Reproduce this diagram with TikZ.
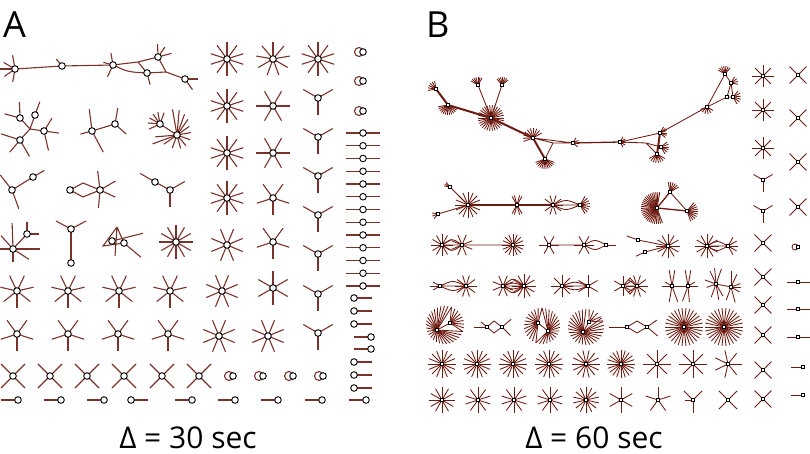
\documentclass[tikz,border=0pt]{standalone}
\usepackage{fontspec}
\setmainfont{Open Sans}
\definecolor{edgeA}{RGB}{122,50,42}
\definecolor{edgeB}{RGB}{110,26,16}
\tikzset{
 ea/.style={draw=edgeA, line width=1.1pt},
 eb/.style={draw=edgeB, line width=0.85pt},
 ebt/.style={draw=edgeB, line width=2pt},
 na/.style={circle, draw=black, fill=white, line width=0.9pt, inner sep=0pt, minimum size=6.6pt},
 nb/.style={rectangle, draw=black, fill=white, line width=0.6pt, inner sep=0pt, minimum size=3.4pt},
 panellab/.style={font=\fontsize{36}{40}\selectfont, inner sep=0pt},
 captxt/.style={font=\fontsize{30}{32}\selectfont, inner sep=0pt}
}
% panel A helpers
\newcommand\stA[4]{\foreach \k in {1,...,#2}{\draw[ea] #1 -- ++({-(#4+360*\k/#2)}:#3);}\node[na] at #1 {};}
\newcommand\spA[2]{\foreach \a/\l in {#2}{\draw[ea] #1 -- ++({-(\a)}:\l);}}
\newcommand\ndA[1]{\node[na] at #1 {};}
\newcommand\lpA[1]{\draw[ea] #1 ++(-4,0) circle[radius=4.5];\node[na] at #1 {};}
% panel B helpers
\newcommand\stB[4]{\foreach \k in {1,...,#2}{\draw[eb] #1 -- ++({-(#4+360*\k/#2)}:#3);}\node[nb] at #1 {};}
\newcommand\spB[2]{\foreach \a/\l in {#2}{\draw[eb] #1 -- ++({-(\a)}:\l);}}
\newcommand\fanB[5]{\foreach \k in {1,...,#2}{\draw[eb] #1 -- ++({-(#4+(#5-(#4))*(\k-1)/(#2-1))}:#3);}}
\newcommand\whB[7]{\foreach \k in {1,...,#7}{\pgfmathsetmacro\wang{#5+(#6-(#5))*(\k-1)/(#7-1)}\draw[eb] #1 -- ({#2+#4*cos(\wang)},{#3-#4*sin(\wang)});}}
\newcommand\ndB[1]{\node[nb] at #1 {};}
\begin{document}
\begin{tikzpicture}[x=1pt,y=-1pt]
\useasboundingbox (0,0) rectangle (810,454);
\node[panellab, anchor=base west] (labA) at (3,38) {A};
\node[panellab, anchor=base west] (labB) at (426,38) {B};
\node[captxt, anchor=base] (capA) at (188,448) {Δ = 30 sec};
\node[captxt, anchor=base] (capB) at (594,448) {Δ = 60 sec};

%================ PANEL A ================
% chain
\coordinate (a1) at (15,69); \coordinate (a2) at (62,66); \coordinate (a3) at (113,65);
\coordinate (j1) at (138,62); \coordinate (a4) at (158,57); \coordinate (a5) at (147,73);
\coordinate (j2) at (166,72); \coordinate (a6) at (185,79);
\draw[ea] (a1)--(a2)--(a3)--(j1)--(a4);
\draw[ea] (a3) .. controls (128,72) .. (a5);
\draw[ea] (j1)--(a5) (a4)--(j2)--(a6) (j2)--(a5);
\spA{(a1)}{180/15,150/13,100/14,215/13,260/13}
\spA{(a2)}{130/9}
\spA{(a3)}{100/12,165/10,245/13}
\spA{(a4)}{92/13,55/12,15/14}
\spA{(a5)}{285/12}
\spA{(a6)}{0/13,-55/13}
\foreach \n in {a1,a2,a3,a4,a5,a6} \ndA{(\n)}
% row 2a
\coordinate (b1) at (20,118); \coordinate (b2) at (35,115); \coordinate (b3) at (44,131);
\coordinate (b4) at (20,140); \coordinate (jb) at (30,129);
\draw[ea] (b1)--(jb) (b2)--(jb) (b3)--(jb) (b4)--(jb);
\spA{(b1)}{92/16,165/16}
\spA{(b2)}{70/14}
\spA{(b3)}{58/15,-8/15,283/20}
\spA{(b4)}{162/20,230/16,300/19}
\foreach \n in {b1,b2,b3,b4} \ndA{(\n)}
% row 2b
\coordinate (c1) at (92,131); \coordinate (c2) at (115,124);
\draw[ea] (c1)--(c2);
\spA{(c1)}{97/22,195/12,298/24}
\spA{(c2)}{80/16,318/15}
\ndA{(c1)} \ndA{(c2)}
% row 2c
\coordinate (d1) at (160,124); \coordinate (d2) at (177,135);
\draw[ea] (d1)--(d2);
\spA{(d1)}{70/12,100/12,125/12,150/12,175/12,205/12}
\spA{(d2)}{100/26,85/25,70/22,55/19,35/15,10/14,-20/14,-50/14,-75/14,-110/14,-145/16,200/26,185/22}
\ndA{(d1)} \ndA{(d2)}
% row 3
\coordinate (e1) at (12,190); \coordinate (e2) at (33,177);
\draw[ea] (e1)--(e2);
\spA{(e1)}{128/19,290/20}
\spA{(e2)}{30/13}
\ndA{(e1)} \ndA{(e2)}
\coordinate (f1) at (70,190); \coordinate (f2) at (100,190);
\coordinate (fu) at (83,183); \coordinate (fd) at (83,197);
\draw[ea] (f1)--(fu)--(f2) (f1)--(fd)--(f2);
\spA{(f2)}{97/19,30/18,-25/17,265/18}
\ndA{(f1)} \ndA{(f2)}
\coordinate (g1) at (155,182); \coordinate (g2) at (170,190);
\draw[ea] (g1)--(g2);
\spA{(g1)}{150/17}
\spA{(g2)}{30/17,270/17}
\ndA{(g1)} \ndA{(g2)}
% row 4
\coordinate (h1) at (13,249); \coordinate (h2) at (27,234);
\draw[ea] (h1)--(h2);
\spA{(h1)}{92/26,180/13,0/27,132/18,270/13,-33/19}
\spA{(h2)}{90/12,0/12}
\ndA{(h1)} \ndA{(h2)}
\coordinate (i1) at (71,229); \coordinate (i2) at (71,263);
\draw[ea] (i1)--(i2);
\spA{(i1)}{152/17,28/17}
\ndA{(i1)} \ndA{(i2)}
\coordinate (k1) at (112,241); \coordinate (k2) at (124,243);
\coordinate (kt) at (117,227); \coordinate (kl) at (103,246); \coordinate (kb) at (115,256);
\draw[ea] (kt)--(kl)--(k2) (kt)--(kb) (kt)--(k2);
\spA{(k1)}{14/32}
\spA{(k2)}{-40/22}
\ndA{(k1)} \ndA{(k2)}
\stA{(176,242)}{12}{17}{0}
% rows 5-7 left
\foreach \x in {17,68,119,170} {\stA{(\x,291)}{7}{17}{270}}
\foreach \x in {17,68,118,168} {\stA{(\x,334)}{5}{17}{270}}
\foreach \x in {13,50,87,124,162,199} {\stA{(\x,376)}{4}{17}{45}}
\foreach \x/\d in {18/-1,61/-1,104/-1,131/1,192/-1,235/-1,278/-1,322/-1,366/-1}
  {\draw[ea] (\x,400) -- ++(\d*17,0); \ndA{(\x,400)}}
% star columns
\foreach \y in {59,106,153,198} {\stA{(227,\y)}{10}{17}{18}}
\stA{(227,245)}{8}{17}{22.5}
\stA{(222,291)}{8}{17}{22.5}
\stA{(219,336)}{8}{17}{22.5}
\stA{(273,59)}{9}{17}{10}
\stA{(273,106)}{6}{17}{0}
\stA{(273,153)}{6}{17}{0}
\stA{(273,198)}{5}{17}{270}
\stA{(273,242)}{5}{17}{270}
\stA{(273,288)}{6}{17}{270}
\stA{(268,336)}{8}{17}{22.5}
\stA{(318,59)}{10}{17}{18}
\foreach \y in {98,137,176,215,254,294,333} {\spA{(318,\y)}{150/17,30/17,270/17}\ndA{(318,\y)}}
% loops
\foreach \y in {52,81,111} {\lpA{(363,\y)}}
\foreach \x in {233,263,293,323} {\lpA{(\x,376)}}
% dimers
\foreach \k in {0,...,12} {\draw[ea] (346,133+12.75*\k) -- (380,133+12.75*\k); \ndA{(363,133+12.75*\k)}}
\foreach \y in {298,311,324,362,375,388} {\draw[ea] (354,\y) -- (372,\y); \ndA{(354,\y)}}
\foreach \y in {337,349} {\draw[ea] (354,\y) -- (371,\y); \ndA{(371,\y)}}

%================ PANEL B ================
\coordinate (n1) at (436,89); \coordinate (n2) at (448,105); \coordinate (n3) at (478,85);
\coordinate (n4) at (502,85); \coordinate (n5) at (491,118); \coordinate (n6) at (533,138);
\coordinate (n7) at (545,159); \coordinate (jB1) at (553,143); \coordinate (n8) at (573,143);
\coordinate (n9) at (620,142); \coordinate (n10) at (660,133); \coordinate (jB2) at (646,143);
\coordinate (n11) at (661,147); \coordinate (n12) at (657,154); \coordinate (n13) at (707,107);
\coordinate (n14) at (725,74); \coordinate (n15) at (731,83); \coordinate (n16) at (727,97);
\coordinate (n17) at (733,97);
\fanB{(n1)}{6}{8}{100}{190}
\fanB{(n2)}{12}{10}{190}{330}
\fanB{(n3)}{7}{8}{60}{150}
\fanB{(n4)}{7}{8}{40}{130}
\fanB{(n5)}{30}{13}{0}{348}
\fanB{(n6)}{10}{10}{30}{200}
\fanB{(n7)}{12}{10}{200}{340}
\fanB{(n8)}{4}{6}{-40}{60}
\fanB{(n9)}{5}{6}{-60}{60}
\fanB{(n10)}{6}{7}{-40}{60}
\fanB{(n11)}{6}{8}{-60}{40}
\fanB{(n12)}{8}{9}{210}{330}
\fanB{(n13)}{6}{7}{200}{330}
\fanB{(n14)}{7}{8}{50}{150}
\fanB{(n15)}{4}{7}{-10}{60}
\fanB{(n17)}{6}{8}{-60}{50}
\draw[ebt] (n1)--(n2) (n2)--(n5) (n5)--(n6) (n6)--(n7) (n10)--(n12);
\draw[eb] (n3)--(n5) (n4)--(n5) (n6)--(n8) (n6)--(jB1) (n7)--(jB1) (jB1)--(n8);
\draw[eb, line width=1.3pt] (n8)--(n9);
\draw[eb] (n9)--(n10) (n9)--(jB2) (jB2)--(n11) (jB2)--(n12);
\draw[eb] (n10)--(n13) (n13)--(n14) (n13)--(n16) (n14)--(n15) (n15)--(n16) (n15)--(n17) (n16)--(n17);
\foreach \i in {1,...,17} \ndB{(n\i)}
% row 2
\coordinate (p1) at (450,187); \coordinate (p2) at (438,214); \coordinate (p3) at (468,205);
\coordinate (p4) at (517,205); \coordinate (p5) at (553,205); \coordinate (p6) at (580,205);
\draw[eb] (p1)--(p3) (p2)--(p3);
\draw[eb, line width=1.2pt] (p3)--(p4) (p4)--(p5);
\draw[eb] (p5)--(p6) (p5) .. controls (566,199) .. (p6) (p5) .. controls (566,211) .. (p6);
\fanB{(p1)}{3}{6}{130}{170}
\fanB{(p2)}{3}{6}{170}{230}
\fanB{(p3)}{16}{13}{0}{337.5}
\spB{(p4)}{60/10,75/10,105/10,120/10,240/10,255/10,285/10,300/10}
\fanB{(p5)}{10}{10}{0}{324}
\fanB{(p6)}{8}{10}{-60}{60}
\foreach \n in {p1,p2,p3,p4,p5,p6} \ndB{(\n)}
\coordinate (q1) at (657,208); \coordinate (q2) at (670,192); \coordinate (q3) at (687,211);
\draw[eb, line width=1.3pt] (q1)--(q2) (q1)--(q3);
\draw[eb] (q2)--(q3);
\fanB{(q1)}{30}{16}{80}{290}
\fanB{(q2)}{6}{10}{30}{100}
\fanB{(q3)}{10}{11}{-70}{50}
\foreach \n in {q1,q2,q3} \ndB{(\n)}
% row 3
\coordinate (r1) at (442,245); \coordinate (r2) at (462,245); \coordinate (r3) at (513,245);
\draw[eb] (r1)--(r2) (r1) .. controls (452,238) .. (r2) (r1) .. controls (452,252) .. (r2) (r2)--(r3);
\stB{(r1)}{12}{11}{0}
\stB{(r2)}{8}{11}{22.5}
\stB{(r3)}{16}{11}{0}
\coordinate (s1) at (549,245); \coordinate (s2) at (584,245); \coordinate (s3) at (606,245);
\draw[eb] (s1)--(s2) (s2) .. controls (595,239) .. (s3) (s2) .. controls (595,251) .. (s3);
\spB{(s3)}{0/10}
\stB{(s1)}{6}{10}{0}
\stB{(s2)}{6}{10}{0}
\ndB{(s3)}
\coordinate (t1) at (638,240); \coordinate (t2) at (645,252); \coordinate (t3) at (668,246);
\draw[eb] (t1)--(t3) (t2)--(t3);
\spB{(t1)}{160/12}
\spB{(t2)}{205/10}
\stB{(t3)}{12}{12}{0}
\ndB{(t1)} \ndB{(t2)}
\coordinate (u1) at (707,246); \coordinate (u2) at (728,246);
\draw[eb] (u1)--(u2) (u1) .. controls (717,240) .. (u2) (u1) .. controls (717,252) .. (u2);
\fanB{(u2)}{5}{10}{-60}{60}
\stB{(u1)}{12}{12}{0}
\ndB{(u2)}
% row 4
\coordinate (v1) at (440,286); \coordinate (v2) at (466,286);
\draw[eb] (v1)--(v2) (v1) .. controls (453,280) .. (v2) (v1) .. controls (453,292) .. (v2);
\spB{(v1)}{180/10,150/8,210/8}
\stB{(v2)}{10}{11}{0}
\ndB{(v1)}
\coordinate (w1) at (503,286); \coordinate (w2) at (524,286);
\draw[eb] (w1)--(w2) (w1) .. controls (513,277) .. (w2) (w1) .. controls (513,295) .. (w2) (w1) .. controls (513,282) .. (w2) (w1) .. controls (513,290) .. (w2);
\stB{(w1)}{8}{11}{22.5}
\stB{(w2)}{12}{12}{0}
\coordinate (x1) at (562,286); \coordinate (x2) at (588,286);
\draw[eb] (x1)--(x2) (x1) .. controls (575,281) .. (x2) (x1) .. controls (575,291) .. (x2);
\stB{(x1)}{8}{11}{0}
\stB{(x2)}{6}{11}{30}
\coordinate (y1) at (623,286); \coordinate (y2) at (637,286);
\draw[eb] (y1)--(630,278)--(y2) (y1)--(630,294)--(y2) (y1)--(y2);
\stB{(y1)}{6}{10}{30}
\stB{(y2)}{10}{11}{0}
\coordinate (z1) at (672,286); \coordinate (z2) at (688,286);
\draw[eb] (z1)--(z2);
\spB{(z1)}{80/16,100/16,260/16,290/17,180/10,150/8}
\spB{(z2)}{80/16,100/16,250/16,275/16,0/10,30/8}
\ndB{(z1)} \ndB{(z2)}
\coordinate (zz1) at (716,284); \coordinate (zz2) at (731,287);
\draw[eb] (zz1)--(zz2);
\spB{(zz1)}{70/16,95/16,115/14,160/12,200/10,250/14,280/16,300/14}
\spB{(zz2)}{65/14,90/16,250/14,285/16,0/10,20/10,330/10}
\ndB{(zz1)} \ndB{(zz2)}
% row 5
\coordinate (W1a) at (437,330); \coordinate (W1b) at (450,323);
\whB{(W1a)}{445}{325}{19}{70}{340}{26}
\whB{(W1b)}{445}{325}{19}{-20}{70}{9}
\draw[eb] (W1a)--(W1b);
\ndB{(W1a)} \ndB{(W1b)}
\coordinate (D1a) at (487,327); \coordinate (D1b) at (502,327);
\draw[eb] (D1a)--(494,321)--(D1b) (D1a)--(494,333)--(D1b);
\spB{(D1a)}{180/13,140/8}
\spB{(D1b)}{40/12,-45/12}
\ndB{(D1a)} \ndB{(D1b)}
\coordinate (W3a) at (538,323); \coordinate (W3b) at (548,331);
\whB{(W3a)}{542}{326}{18}{90}{250}{14}
\whB{(W3b)}{542}{326}{18}{-110}{90}{18}
\draw[eb] (W3a)--(W3b);
\ndB{(W3a)} \ndB{(W3b)}
\coordinate (W4a) at (589,322); \coordinate (W4b) at (583,332);
\whB{(W4b)}{586}{327}{18}{90}{390}{26}
\whB{(W4a)}{586}{327}{18}{20}{80}{5}
\draw[eb] (W4a)--(W4b);
\ndB{(W4a)} \ndB{(W4b)}
\coordinate (D2a) at (627,327); \coordinate (D2b) at (647,327);
\draw[eb] (D2a)--(637,321)--(D2b) (D2a)--(637,333)--(D2b);
\spB{(D2a)}{180/18}
\spB{(D2b)}{35/12,-40/14}
\ndB{(D2a)} \ndB{(D2b)}
\stB{(684,327)}{30}{19}{0}
\stB{(724,327)}{30}{19}{0}
% rows 6-7
\foreach \x/\n in {442/16,477/16,513/16,549/16,586/14,621/20,657/8,693/8,728/7} {\stB{(\x,364)}{\n}{14}{0}}
\foreach \x/\n in {442/12,478/10,514/10,550/10,586/14,621/6,658/5} {\stB{(\x,400)}{\n}{13}{90}}
\spB{(693,400)}{135/13,45/13,270/13,180/8}
\ndB{(693,400)}
\stB{(728,400)}{4}{13}{45}
% right columns
\foreach \y in {76,110,148} {\stB{(763,\y)}{8}{11}{0}}
\foreach \y in {180,211} {\spB{(763,\y)}{150/11,30/11,270/12}\ndB{(763,\y)}}
\foreach \y in {243,277,305,335,370,399} {\stB{(763,\y)}{4}{12}{45}}
\foreach \y in {75,118,162,207} {\stB{(798,\y)}{4}{12}{45}}
\draw[eb] (795,247) circle[radius=3];
\ndB{(798,247)}
\foreach \y in {282,309,337} {\draw[eb] (787,\y) -- (810,\y); \ndB{(798,\y)}}
\foreach \y in {367,395} {\draw[eb] (791,\y) -- (803,\y); \ndB{(803,\y)}}
\end{tikzpicture}
\end{document}
